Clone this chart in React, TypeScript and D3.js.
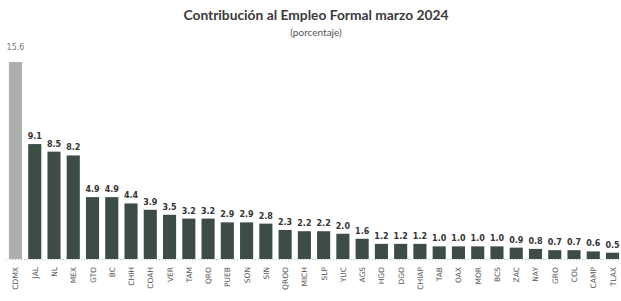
import React, { useEffect, useRef } from 'react';
import * as d3 from 'd3';

const estados = [
  'CDMX', 'JAL', 'NL', 'MEX', 'GTO', 'BC', 'CHIH', 'COAH', 'VER', 'TAM', 'QRO',
  'PUEB', 'SON', 'SIN', 'QROO', 'MICH', 'SLP', 'YUC', 'AGS', 'HGO', 'DGO',
  'CHIAP', 'TAB', 'OAX', 'MOR', 'BCS', 'ZAC', 'NAY', 'GRO', 'COL', 'CAMP', 'TLAX'
];

const contribucion = [
  15.6, 9.1, 8.5, 8.2, 4.9, 4.9, 4.4, 3.9, 3.5, 3.2, 3.2,
  2.9, 2.9, 2.8, 2.3, 2.2, 2.2, 2.0, 1.6, 1.2, 1.2,
  1.2, 1.0, 1.0, 1.0, 1.0, 0.9, 0.8, 0.7, 0.7, 0.6, 0.5
];

const App: React.FC = () => {
  const svgRef = useRef<SVGSVGElement>(null);

  useEffect(() => {
    if (!svgRef.current) return;
    const svg = d3.select(svgRef.current);
    svg.selectAll('*').remove();

    const width = 621;
    const height = 301;
    const baseline = 259;
    const top = 62;

    const data = estados.map((e, i) => ({ estado: e, valor: contribucion[i] }));

    const x = d3.scaleBand()
      .domain(estados)
      .range([7, 621])
      .paddingInner(0.32)
      .paddingOuter(0.1);

    const y = d3.scaleLinear()
      .domain([0, 15.6])
      .range([baseline, top]);

    const font = "'Lato', 'Noto Sans', sans-serif";

    // titulo
    svg.append('text')
      .attr('x', 316)
      .attr('y', 20)
      .attr('text-anchor', 'middle')
      .style('font-family', font)
      .style('font-size', '13.8px')
      .style('font-weight', 'bold')
      .style('fill', '#3a3a3a')
      .text('Contribución al Empleo Formal marzo 2024');

    svg.append('text')
      .attr('x', 316)
      .attr('y', 36)
      .attr('text-anchor', 'middle')
      .style('font-family', font)
      .style('font-size', '10px')
      .style('fill', '#555')
      .text('(porcentaje)');

    // linea base punteada
    svg.append('line')
      .attr('x1', 6)
      .attr('x2', 621)
      .attr('y1', baseline + 0.5)
      .attr('y2', baseline + 0.5)
      .attr('stroke', '#bbb')
      .attr('stroke-dasharray', '1,2');

    // barras
    svg.selectAll('.bar')
      .data(data)
      .enter()
      .append('rect')
      .attr('class', 'bar')
      .attr('x', d => x(d.estado)!)
      .attr('y', d => y(d.valor))
      .attr('width', x.bandwidth())
      .attr('height', d => baseline - y(d.valor))
      .attr('fill', (d, i) => i === 0 ? '#abb0ad' : '#3d4d46');

    // etiquetas de valores
    svg.selectAll('.val')
      .data(data)
      .enter()
      .append('text')
      .attr('class', 'val')
      .attr('x', d => x(d.estado)! + x.bandwidth() / 2)
      .attr('y', (d, i) => i === 0 ? y(d.valor) - 12 : y(d.valor) - 5)
      .attr('text-anchor', 'middle')
      .style('font-family', "'DejaVu Sans', sans-serif")
      .style('font-size', '8px')
      .style('font-weight', (d, i) => i === 0 ? 'normal' : 'bold')
      .style('fill', (d, i) => i === 0 ? '#777' : '#333')
      .text(d => d.valor.toFixed(1));

    // etiquetas de estados
    svg.selectAll('.cat')
      .data(data)
      .enter()
      .append('text')
      .attr('class', 'cat')
      .attr('transform', d => `translate(${x(d.estado)! + x.bandwidth() / 2 + 3}, 267) rotate(-90)`)
      .attr('text-anchor', 'end')
      .style('font-family', "'DejaVu Sans', sans-serif")
      .style('font-size', '7.5px')
      .style('fill', '#555')
      .text(d => d.estado);

    svg.attr('width', width).attr('height', height);
  }, []);

  return (
    <svg ref={svgRef} width={621} height={301}
      style={{ position: 'absolute', left: 0, top: 0, background: '#fff' }} />
  );
};

export default App;
